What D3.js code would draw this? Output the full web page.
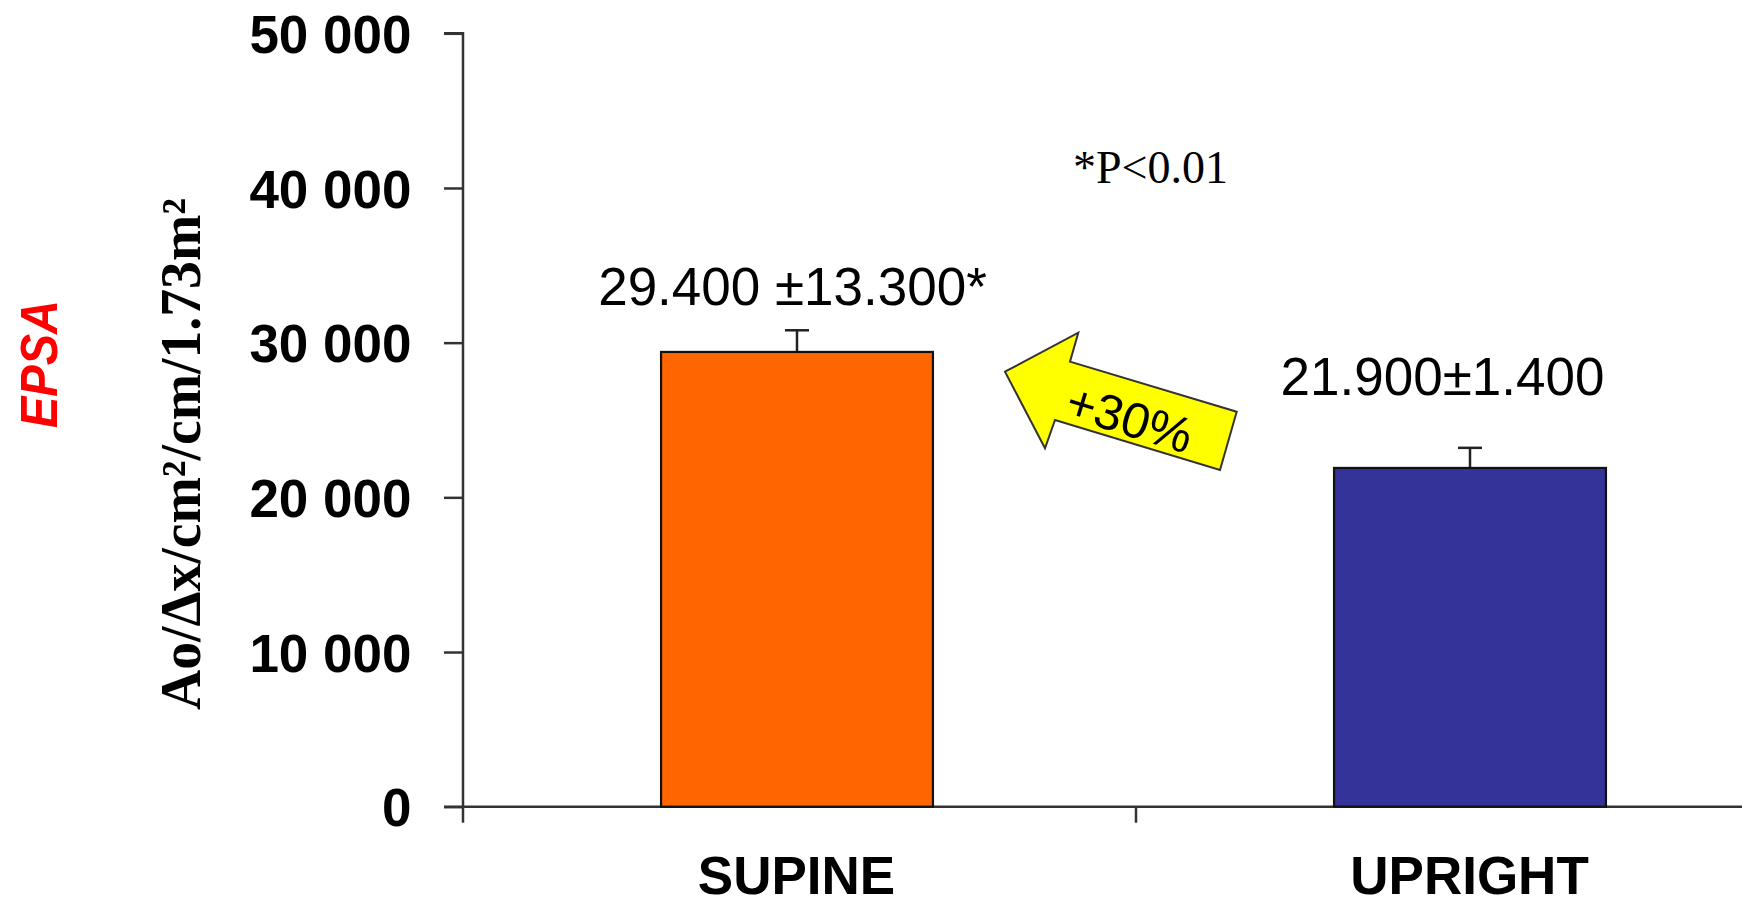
<!DOCTYPE html>
<html>
<head>
<meta charset="utf-8">
<script src="https://cdn.jsdelivr.net/npm/d3@7"></script>
<style>
  html, body { margin: 0; padding: 0; background: #ffffff; }
  svg { display: block; }
</style>
</head>
<body>
<svg id="chart" width="1742" height="907"></svg>
<script>
// ---- data ----
const categories = ["SUPINE", "UPRIGHT"];
const means = [29400, 21900];
const errors = [1400, 1300];
const valueLabels = ["29.400 \u00B113.300*", "21.900\u00B11.400"];
const barColors = ["#FF6600", "#333399"];
const yTicks = [0, 10000, 20000, 30000, 40000, 50000];
const yTickLabels = ["0", "10 000", "20 000", "30 000", "40 000", "50 000"];
const yTitle = "Ao/\u0394x/cm\u00B2/cm/1.73m\u00B2";
const sideTitle = "EPSA";
const pNote = "*P<0.01";
const arrowNote = "+30%";

// ---- layout ----
const W = 1742, H = 907;
const svg = d3.select("#chart");
svg.append("rect").attr("width", W).attr("height", H).attr("fill", "#fff");

const y = d3.scaleLinear().domain([0, 50000]).range([806.7, 33.3]);
const x = d3.scaleBand().domain(categories).range([463, 1809]).padding(0);
const barW = x.bandwidth() * 0.404;
const axisColor = "#333";
const sans = "'Liberation Sans', Arial, sans-serif";
const serif = "'Liberation Serif', 'Times New Roman', serif";

// y axis
const yAxis = d3.axisLeft(y)
  .tickValues(yTicks)
  .tickSize(19)
  .tickFormat((d, i) => yTickLabels[i]);
const gy = svg.append("g").attr("transform", "translate(463,0)").call(yAxis);
gy.selectAll("path, line").attr("stroke", axisColor).attr("stroke-width", 2.5);
gy.selectAll("text")
  .attr("font-family", sans).attr("font-weight", "bold").attr("font-size", 53)
  .attr("fill", "#000").attr("x", -51.5).attr("dy", "0.36em");
gy.select(".domain").attr("d", `M-19,${y(0)}H0V${y(50000)}H-19`);

// x axis: baseline line + ticks at category boundaries
svg.append("line")
  .attr("x1", x.range()[0]).attr("x2", W)
  .attr("y1", y(0)).attr("y2", y(0))
  .attr("stroke", axisColor).attr("stroke-width", 2.5);
svg.selectAll(".xtick").data(categories).join("line")
  .attr("class", "xtick")
  .attr("x1", d => x(d)).attr("x2", d => x(d))
  .attr("y1", y(0)).attr("y2", y(0) + 16)
  .attr("stroke", axisColor).attr("stroke-width", 2.5);

// category labels
svg.selectAll(".xlab").data(categories).join("text")
  .attr("class", "xlab")
  .attr("x", d => x(d) + x.bandwidth() / 2 - 3)
  .attr("y", 894)
  .attr("text-anchor", "middle")
  .attr("font-family", sans).attr("font-weight", "bold").attr("font-size", 53)
  .attr("fill", "#000")
  .text(d => d);

// error bars
const eb = svg.selectAll(".err").data(categories).join("g").attr("class", "err");
eb.append("line")
  .attr("x1", d => x(d) + x.bandwidth() / 2 - 2.5)
  .attr("x2", d => x(d) + x.bandwidth() / 2 - 2.5)
  .attr("y1", (d, i) => y(means[i]))
  .attr("y2", (d, i) => y(means[i] + errors[i]))
  .attr("stroke", "#222").attr("stroke-width", 2.5);
eb.append("line")
  .attr("x1", d => x(d) + x.bandwidth() / 2 - 2.5 - 12)
  .attr("x2", d => x(d) + x.bandwidth() / 2 - 2.5 + 12)
  .attr("y1", (d, i) => y(means[i] + errors[i]))
  .attr("y2", (d, i) => y(means[i] + errors[i]))
  .attr("stroke", "#222").attr("stroke-width", 2.5);

// bars
svg.selectAll(".bar").data(categories).join("rect")
  .attr("class", "bar")
  .attr("x", d => x(d) + x.bandwidth() / 2 - 2.5 - barW / 2)
  .attr("width", barW)
  .attr("y", (d, i) => y(means[i]))
  .attr("height", (d, i) => y(0) - y(means[i]))
  .attr("fill", (d, i) => barColors[i])
  .attr("stroke", "#111").attr("stroke-width", 2.2);

// value labels
const labelOffsetsX = [-7, -30];
const labelLevels = [32430, 26610];
svg.selectAll(".vlab").data(categories).join("text")
  .attr("class", "vlab")
  .attr("x", (d, i) => x(d) + x.bandwidth() / 2 + labelOffsetsX[i])
  .attr("y", (d, i) => y(labelLevels[i]))
  .attr("text-anchor", "middle")
  .attr("font-family", sans).attr("font-size", 53)
  .attr("fill", "#000")
  .text((d, i) => valueLabels[i]);

// p-value note
svg.append("text")
  .attr("x", 1073).attr("y", 183.3)
  .attr("font-family", serif).attr("font-size", 46)
  .attr("fill", "#000")
  .text(pNote);

// yellow arrow
const arrowPts = [
  [1005, 371.7], [1078.3, 332.7], [1070, 361.7], [1236.7, 411.7],
  [1220, 470], [1055, 420], [1045, 448.3]
];
svg.append("path")
  .attr("d", d3.line()(arrowPts) + "Z")
  .attr("fill", "#FFFF00")
  .attr("stroke", "#333").attr("stroke-width", 2)
  .attr("stroke-linejoin", "miter");
svg.append("text")
  .attr("transform", "translate(1130,418) rotate(17)")
  .attr("text-anchor", "middle").attr("dy", "0.36em")
  .attr("font-family", sans).attr("font-size", 50)
  .attr("fill", "#000")
  .text(arrowNote);

// y axis title
svg.append("text")
  .attr("transform", "translate(199.5,454) rotate(-90)")
  .attr("text-anchor", "middle")
  .attr("font-family", serif).attr("font-weight", "bold").attr("font-size", 56)
  .attr("textLength", 512).attr("lengthAdjust", "spacingAndGlyphs")
  .attr("fill", "#000")
  .text(yTitle);

// side title
svg.append("text")
  .attr("transform", "translate(57,364) rotate(-90)")
  .attr("text-anchor", "middle")
  .attr("font-family", sans).attr("font-weight", "bold").attr("font-style", "italic")
  .attr("font-size", 52)
  .attr("textLength", 128).attr("lengthAdjust", "spacingAndGlyphs")
  .attr("fill", "#FF0000")
  .text(sideTitle);
</script>
</body>
</html>
